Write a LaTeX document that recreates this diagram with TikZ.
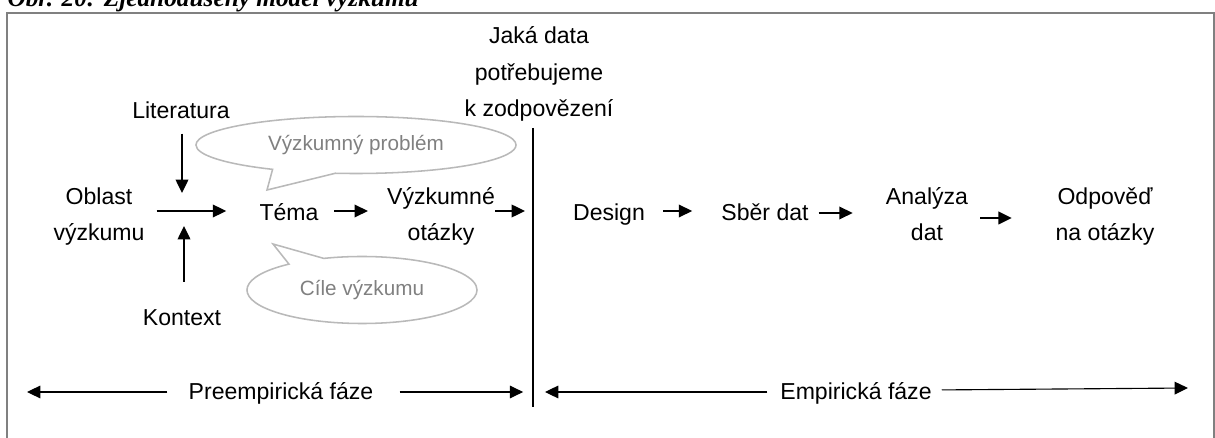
\documentclass[tikz,border=0pt]{standalone}
\usepackage{fontspec}
\setmainfont{Liberation Sans}
\newfontfamily\capfont{Liberation Serif}
\usetikzlibrary{arrows.meta, shapes.callouts}

\begin{document}
\begin{tikzpicture}[x=0.025cm, y=-0.025cm,
    txt/.style={inner sep=0pt, align=center, font=\fontsize{16.4}{26.3}\selectfont},
    bubble/.style={ellipse callout, draw=gray!55, line width=1.1pt, inner sep=0pt, text=gray, font=\fontsize{14.7}{17}\selectfont},
    arr/.style={-{Triangle[length=9.5pt, width=9pt]}, line width=1.1pt},
    phase/.style={-{Triangle[length=9.5pt, width=9pt]}, line width=0.8pt}]

    \useasboundingbox (0,0) rectangle (1215,438);
    \clip (0,0) rectangle (1215,438);

    % Frame and caption
    \draw[gray, line width=1.4pt] (7,13) rectangle (1214,460);
    \node[anchor=base west, inner sep=0pt, scale=1.8, font=\capfont\bfseries\itshape] (caption) at (7,7) {Obr. 20: Zjednodušený model výzkumu};

    % Preempirical part
    \node[txt, anchor=base] (literatura) at (181,119) {Literatura};
    \node[txt, anchor=base] (oblast) at (99,241) {Oblast\\výzkumu};
    \node[txt, anchor=base] (kontext) at (182,326) {Kontext};
    \node[txt, anchor=base] (tema) at (289,221) {Téma};
    \node[txt, anchor=base] (otazky) at (441,241) {Výzkumné\\otázky};
    \node[txt, anchor=base] (data) at (539,117) {Jaká data\\potřebujeme\\k zodpovězení};

    % Empirical part
    \node[txt, anchor=base] (design) at (609,221) {Design};
    \node[txt, anchor=base] (sber) at (765,221) {Sběr dat};
    \node[txt, anchor=base] (analyza) at (927,241) {Analýza\\dat};
    \node[txt, anchor=base] (odpoved) at (1105,241) {Odpověď\\na otázky};

    % Phase labels
    \node[txt, anchor=base] (preemp) at (281,399) {Preempirická fáze};
    \node[txt, anchor=base] (emp) at (856,399) {Empirická fáze};

    % Speech bubbles around the topic
    \coordinate (problemtip) at (267,190);
    \node[bubble, minimum width=8cm, minimum height=1.425cm, callout absolute pointer={(problemtip)}, callout pointer arc=24] (problem) at (356,145) {Výzkumný problém};
    \coordinate (ciletip) at (273,244);
    \node[bubble, minimum width=5.75cm, minimum height=1.675cm, callout absolute pointer={(ciletip)}, callout pointer arc=20] (cile) at (362,290) {Cíle výzkumu};

    % Dividing line between the phases
    \coordinate (divtop) at (533,128);
    \coordinate (divbot) at (533,407);
    \draw[line width=2.1pt] (divtop) -- (divbot);

    % Rows for the horizontal arrows
    \coordinate (rowa) at (0,211);
    \coordinate (rowb) at (0,213);
    \coordinate (rowc) at (0,218);
    \coordinate (rowd) at (0,392);
    \coordinate (rowe) at (0,390);

    % Arrows into the topic
    \coordinate (litend) at (182,193);
    \coordinate (ctxend) at (184,226);
    \draw[arr, shorten <=10pt] (literatura.south -| litend) -- (litend);
    \draw[arr, shorten <=20pt] (kontext.north -| ctxend) -- (ctxend);
    \draw[arr, shorten <=8.5pt, shorten >=23.5pt] (oblast.east |- rowa) -- (tema.west |- rowa);
    \draw[arr, shorten <=11pt, shorten >=13.5pt] (tema.east |- rowa) -- (otazky.west |- rowa);
    \draw[arr, shorten >=5.7pt] (otazky.east |- rowa) -- (divtop |- rowa);

    % Arrows of the empirical steps
    \draw[arr, shorten <=12.8pt, shorten >=20.6pt] (design.east |- rowa) -- (sber.west |- rowa);
    \draw[arr, shorten <=7pt, shorten >=23.5pt] (sber.east |- rowb) -- (analyza.west |- rowb);
    \draw[arr, shorten <=8.5pt, shorten >=31pt] (analyza.east |- rowc) -- (odpoved.west |- rowc);

    % Phase arrows
    \coordinate (preend) at (27,392);
    \coordinate (empend) at (1188,388);
    \draw[phase, shorten <=15pt] (preemp.west |- rowd) -- (preend);
    \draw[phase, shorten <=18.5pt, shorten >=7pt] (preemp.east |- rowd) -- (divbot |- rowd);
    \draw[phase, shorten <=9pt, shorten >=8.5pt] (emp.west |- rowd) -- (divbot |- rowd);
    \draw[phase, shorten <=7pt] (emp.east |- rowe) -- (empend);
\end{tikzpicture}
\end{document}
